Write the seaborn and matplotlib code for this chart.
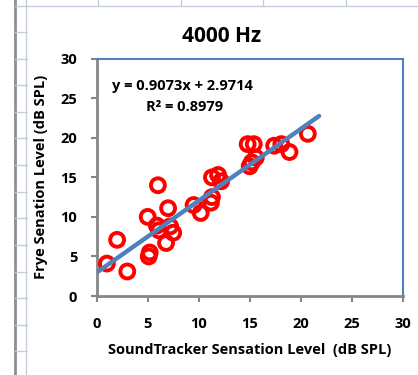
import matplotlib
matplotlib.use("Agg")
import matplotlib.pyplot as plt
from matplotlib.lines import Line2D
import seaborn as sns
import pandas as pd
import numpy as np

# ---- data ----
soundtracker = [1.0, 2.0, 3.0, 5.0, 5.2, 5.1, 6.0, 5.9, 6.1, 7.0, 6.8, 7.2, 7.5,
                9.5, 10.2, 11.3, 11.9, 12.2, 11.3, 11.2,
                14.8, 15.4, 15.0, 15.2, 15.6, 17.4, 18.1, 18.9, 20.7]
frye = [4.1, 7.1, 3.1, 10.0, 5.5, 5.0, 14.0, 8.9, 8.3, 11.1, 6.7, 8.8, 8.0,
        11.5, 10.5, 15.0, 15.3, 14.5, 12.5, 11.8,
        19.2, 19.2, 16.4, 16.9, 17.5, 19.0, 19.2, 18.2, 20.5]
slope = 0.9073
intercept = 2.9714
r_squared = 0.8979
trend_x = [0.0, 21.8]
ticks = [0, 5, 10, 15, 20, 25, 30]
title = "4000 Hz"
xlabel = "SoundTracker Sensation Level  (dB SPL)"
ylabel = "Frye Senation Level (dB SPL)"

df = pd.DataFrame({"x": soundtracker, "y": frye})
trend = pd.DataFrame({"x": trend_x, "y": [slope * v + intercept for v in trend_x]})

sns.set_style("white")
plt.rcParams["font.family"] = ["Open Sans", "DejaVu Sans"]
plt.rcParams["font.weight"] = "bold"
plt.rcParams["text.color"] = "black"
plt.rcParams["axes.labelcolor"] = "black"
plt.rcParams["xtick.color"] = "black"
plt.rcParams["ytick.color"] = "black"

W, H = 418, 375
fig = plt.figure(figsize=(W / 100, H / 100), dpi=100)
fig.patch.set_facecolor("white")

# spreadsheet background decoration
grid_c = "#c3cedc"
def fline(x0, y0, x1, y1, color=grid_c, lw=1.0):
    fig.add_artist(Line2D([x0 / W, x1 / W], [1 - y0 / H, 1 - y1 / H],
                          color=color, lw=lw, transform=fig.transFigure, zorder=0))
fline(27, 6, W, 6)
for vx in [98, 181, 263, 346]:
    fline(vx, 0, vx, 6)
fline(15, 0, 15, H, color="#8e8e8e", lw=2.0)
fline(25.5, 0, 25.5, H)
for k in range(14):
    yy = 5.5 + 26.6 * k
    fline(15, yy, 27, yy)

ax = fig.add_axes([96.7 / W, 79 / H, 306 / W, 237.3 / H])
ax.set_facecolor("white")

sns.scatterplot(data=df, x="x", y="y", ax=ax, marker="o", s=100,
                facecolors="none", edgecolor="#ff0000", linewidth=2.8, zorder=3)
sns.lineplot(data=trend, x="x", y="y", ax=ax, color="#4f81bd", lw=3.2, zorder=4)

ax.set_xlim(0, 30)
ax.set_ylim(0, 30)
ax.set_xticks(ticks)
ax.set_yticks(ticks)
ax.set_xticklabels([str(t) for t in ticks], fontsize=10.5, fontweight="bold")
ax.set_yticklabels([str(t) for t in ticks], fontsize=10.5, fontweight="bold")
ax.tick_params(axis="both", direction="out", length=4, width=1.5, color="#868686",
               labelcolor="black", bottom=True, left=True)
ax.tick_params(axis="x", pad=11)
ax.tick_params(axis="y", pad=10)

for s in ["left", "bottom"]:
    ax.spines[s].set_color("#868686")
    ax.spines[s].set_linewidth(2.0)
for s in ["top", "right"]:
    ax.spines[s].set_color("#4f81bd")
    ax.spines[s].set_linewidth(1.5)
    ax.spines[s].set_visible(True)

ax.set_xlabel(xlabel, fontsize=10.5, fontweight="bold", labelpad=9, color="black")
ax.set_ylabel(ylabel, fontsize=10.5, fontweight="bold", labelpad=9, color="black")

fig.text(222 / W, 1 - 36 / H, title, ha="center", va="center", fontsize=15, fontweight="bold", color="black")
ax.text(112 / W, 1 - 86 / H, f"y = {slope}x + {intercept}", transform=fig.transFigure,
        ha="left", va="center", fontsize=10.5, fontweight="bold", color="black")
ax.text(146 / W, 1 - 107 / H, f"R² = {r_squared}", transform=fig.transFigure,
        ha="left", va="center", fontsize=10.5, fontweight="bold", color="black")

fig.savefig("out.png", dpi=100)
